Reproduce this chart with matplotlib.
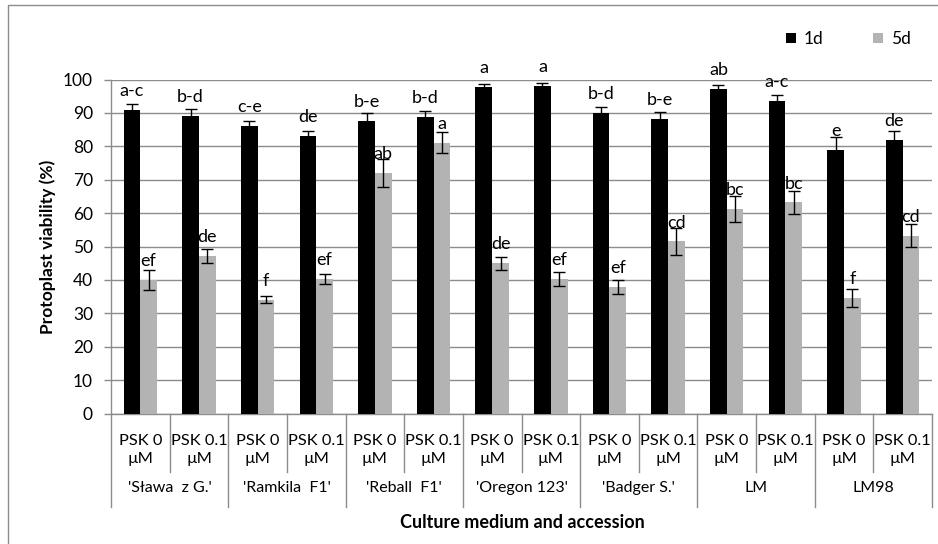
import matplotlib.pyplot as plt
import numpy as np
from matplotlib.patches import Patch, Rectangle

plt.rcParams['font.family'] = ['Lato', 'DejaVu Sans']

groups = ["'Sława  z G.'", "'Ramkila  F1'", "'Reball  F1'", "'Oregon 123'",
          "'Badger S.'", "LM", "LM98"]
media = ['PSK 0\nµM', 'PSK 0.1\nµM']

day1 = [90.8, 89.2, 86.0, 83.1, 87.5, 88.7, 97.8, 98.2, 90.0, 88.3, 97.2, 93.7, 78.8, 81.9]
day1_err = [2.0, 1.9, 1.6, 1.6, 2.5, 2.0, 0.8, 0.8, 1.7, 2.0, 1.3, 1.7, 3.9, 2.6]
day1_lab = ['a-c', 'b-d', 'c-e', 'de', 'b-e', 'b-d', 'a', 'a', 'b-d', 'b-e',
            'ab', 'a-c', 'e', 'de']

day5 = [40.0, 47.2, 34.1, 40.2, 72.0, 81.1, 45.0, 40.4, 37.8, 51.5, 61.2, 63.2, 34.5, 53.2]
day5_err = [3.0, 2.1, 1.1, 1.5, 4.1, 3.1, 2.0, 2.1, 2.1, 4.0, 3.85, 3.35, 2.75, 3.4]
day5_lab = ['ef', 'de', 'f', 'ef', 'ab', 'a', 'de', 'ef', 'ef', 'cd', 'bc', 'bc', 'f', 'cd']

grey = '#b3b3b3'
line_grey = '#8c8c8c'

fig = plt.figure(figsize=(9.38, 5.44), dpi=100)
ax = fig.add_axes([111 / 938, 130.5 / 544, 821 / 938, 334 / 544])

x = np.arange(len(day1))
w = 0.285
ax.bar(x - w / 2, day1, w, color='black', zorder=3)
ax.bar(x + w / 2, day5, w, color=grey, zorder=3)
ax.errorbar(x - w / 2, day1, yerr=day1_err, fmt='none', ecolor='black',
            elinewidth=1, capsize=4, capthick=1, zorder=4)
ax.errorbar(x + w / 2, day5, yerr=day5_err, fmt='none', ecolor='black',
            elinewidth=1, capsize=4, capthick=1, zorder=4)

for i in range(len(x)):
    ax.annotate(day1_lab[i], (x[i] - w / 2, day1[i]), xytext=(0, 10),
                textcoords='offset points', ha='center', va='baseline',
                fontsize=13, annotation_clip=False, zorder=5)
    ax.annotate(day5_lab[i], (x[i] + w / 2, day5[i]), xytext=(0, 10),
                textcoords='offset points', ha='center', va='baseline',
                fontsize=13, annotation_clip=False, zorder=5)

ax.set_xlim(-0.5, len(x) - 0.5)
ax.set_ylim(0, 100)
ax.set_yticks(range(0, 101, 10))
ax.tick_params(axis='y', length=5, width=1, color=line_grey, labelsize=12.5, pad=8)
ax.set_xticks([])
ax.yaxis.grid(True, color=line_grey, linewidth=1)
ax.set_axisbelow(True)
for s in ['top', 'right']:
    ax.spines[s].set_visible(False)
for s in ['left', 'bottom']:
    ax.spines[s].set_color(line_grey)
    ax.spines[s].set_linewidth(1)

# category axis below the plot
tr = ax.get_xaxis_transform()
for k in range(len(x) + 1):
    bottom = -0.28 if k % 2 == 0 else -0.175
    ax.plot([k - 0.5, k - 0.5], [0, bottom], transform=tr, color=line_grey,
            linewidth=1, clip_on=False)
for i in range(len(x)):
    ax.text(x[i], -0.11, media[i % 2], transform=tr, ha='center', va='center',
            fontsize=11.8, linespacing=1.38)
for g, name in enumerate(groups):
    ax.text(2 * g + 0.5, -0.222, name, transform=tr, ha='center', va='center',
            fontsize=11.5)

fig.text(522 / 938, 1 - 523 / 544, 'Culture medium and accession', ha='center',
         va='center', fontsize=13, fontweight='bold')
fig.text(48 / 938, 1 - 247 / 544, 'Protoplast viability (%)', ha='center',
         va='center', rotation=90, fontsize=12.5, fontweight='bold')

handles = [Patch(facecolor='black'), Patch(facecolor=grey)]
fig.legend(handles, ['1d', '5d'], ncol=2, frameon=False, loc='center left',
           bbox_to_anchor=(786 / 938, 1 - 39 / 544), fontsize=12.5,
           handlelength=0.55, handleheight=0.55, handletextpad=0.45,
           columnspacing=2.9, borderpad=0, borderaxespad=0)

fig.patches.append(Rectangle((8 / 938, -0.05), 1.0, 1.05 - 5 / 544,
                             transform=fig.transFigure, fill=False,
                             edgecolor=line_grey, linewidth=1))

fig.savefig('out.png', dpi=100)
